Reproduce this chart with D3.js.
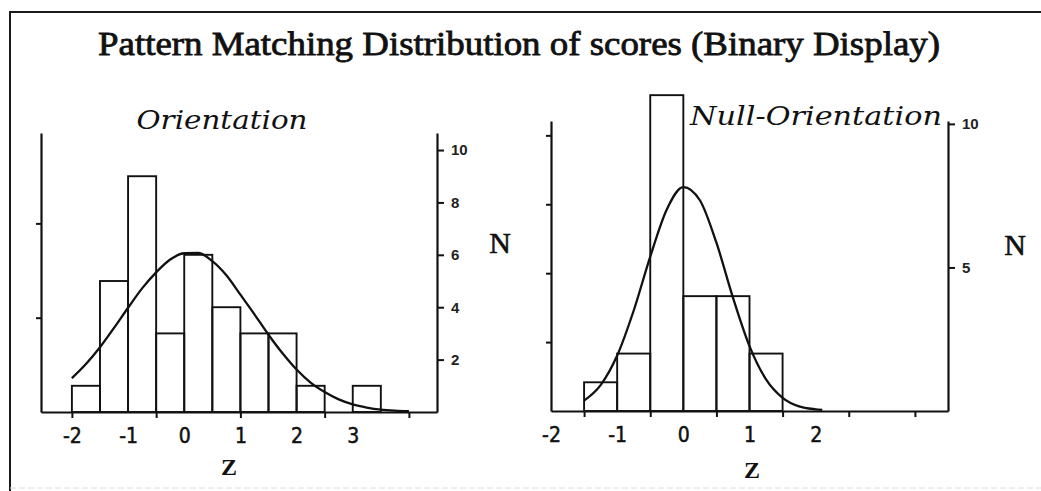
<!DOCTYPE html>
<html>
<head>
<meta charset="utf-8">
<script src="https://cdn.jsdelivr.net/npm/d3@7"></script>
<style>
  body { margin: 0; background: #fff; }
  svg { display: block; }
</style>
</head>
<body>
<svg id="chart" width="1041" height="491"></svg>
<script>
// ---- data ----
const chartTitle = "Pattern Matching Distribution of scores (Binary Display)";
const binWidth = 0.5;

// Orientation: histogram of z-scores (bin lower edges and counts)
const orientTitle = "Orientation";
const orientBinStart = [-2, -1.5, -1, -0.5, 0, 0.5, 1, 1.5, 2, 2.5, 3];
const orientCount    = [ 1,    5,  9,    3, 6,   4, 3,   3, 1,   0, 1];
// fitted normal curve, read at 0.25 steps
const orientCurveZ = [-2, -1.75, -1.5, -1.25, -1, -0.75, -0.5, -0.25, 0, 0.25, 0.5, 0.75,
                      1, 1.25, 1.5, 1.75, 2, 2.25, 2.5, 2.75, 3, 3.25, 3.5, 3.75, 4];
const orientCurveN = [1.29, 1.83, 2.47, 3.21, 3.98, 4.72, 5.33, 5.82, 6.06, 6.07, 5.76, 5.22,
                      4.48, 3.73, 2.95, 2.24, 1.62, 1.12, 0.76, 0.48, 0.29, 0.17, 0.09, 0.05, 0.03];
const orientZLabels = [-2, -1, 0, 1, 2, 3];
const orientZTicks  = [-2, -0.5, 1, 2.5, 4];
const orientNTicks  = [2, 4, 6, 8, 10];
const orientShareTicks = [0.1, 0.2];

// Null-Orientation
const nullTitle = "Null-Orientation";
const nullBinStart = [-1.5, -1, -0.5, 0, 0.5, 1];
const nullCount    = [   1,  2,   11, 4,   4, 2];
const nullCurveZ = [-1.5, -1.25, -1, -0.75, -0.5, -0.25, 0, 0.25, 0.5, 0.75,
                    1, 1.25, 1.5, 1.75, 2, 2.1];
const nullCurveN = [0.36, 0.9, 1.93, 3.5, 5.38, 7.02, 7.8, 7.34, 5.86, 3.95,
                    2.26, 1.1, 0.46, 0.16, 0.06, 0.04];
const nullZLabels = [-2, -1, 0, 1, 2];
const nullZTicks  = [-1.5, -0.5, 0.5, 1.5, 2.5, 3.5];
const nullNTicks  = [5, 10];
const nullShareTicks = [0.1, 0.2, 0.3, 0.4];

// ---- drawing ----
const svg = d3.select("#chart");
svg.append("rect").attr("width", 1041).attr("height", 491).attr("fill", "#fff");

// outer frame
svg.append("path").attr("d", "M10,491V12H1041")
  .attr("fill", "none").attr("stroke", "#1a1a1a").attr("stroke-width", 2);
svg.append("path").attr("d", "M10,488H1041")
  .attr("fill", "none").attr("stroke", "#dcdcdc").attr("stroke-width", 1)
  .attr("stroke-dasharray", "6,3");

svg.append("text")
  .attr("x", 519).attr("y", 55)
  .attr("text-anchor", "middle")
  .attr("font-family", "'Liberation Serif', 'Times New Roman', serif")
  .attr("font-size", 34)
  .attr("textLength", 842).attr("lengthAdjust", "spacingAndGlyphs")
  .attr("fill", "#111").attr("stroke", "#111").attr("stroke-width", 0.8)
  .text(chartTitle);

function drawPanel(p) {
  const g = svg.append("g");
  const x = d3.scaleLinear().domain(p.zDomain).range([p.left, p.right]);
  const y = d3.scaleLinear().domain([0, p.nMax]).range([p.bottom, p.top]);
  const total = d3.sum(p.counts);
  const yShare = d3.scaleLinear().domain([0, p.nMax / total]).range([p.bottom, p.top]);

  // bars
  const bins = p.starts.map((s, i) => ({ s, n: p.counts[i] })).filter(d => d.n > 0);
  g.selectAll("rect.bar").data(bins).join("rect")
    .attr("class", "bar")
    .attr("x", d => x(d.s))
    .attr("width", d => x(d.s + binWidth) - x(d.s))
    .attr("y", d => y(d.n))
    .attr("height", d => y(0) - y(d.n))
    .attr("fill", "none").attr("stroke", "#111").attr("stroke-width", 1.9);

  // fitted curve
  const pts = p.curveZ.map((z, i) => [z, p.curveN[i]]);
  g.append("path").datum(pts)
    .attr("d", d3.line().x(d => x(d[0])).y(d => y(d[1])).curve(d3.curveMonotoneX))
    .attr("fill", "none").attr("stroke", "#111").attr("stroke-width", 2.3);

  const styleAxis = sel => {
    sel.selectAll("path.domain").attr("stroke", "#111").attr("stroke-width", 2.2);
    sel.selectAll(".tick line").attr("stroke", "#111").attr("stroke-width", 2);
  };

  // bottom axis line with tick marks
  g.append("g").attr("transform", `translate(0,${p.bottom})`)
    .call(d3.axisBottom(x).tickValues(p.zTicks).tickFormat("").tickSize(6).tickSizeOuter(0))
    .call(styleAxis);

  // z labels
  const lab = g.append("g").attr("transform", `translate(0,${p.bottom})`)
    .call(d3.axisBottom(x).tickValues(p.zLabels).tickFormat(d => String(d))
      .tickSize(0).tickPadding(16));
  lab.select("path.domain").remove();
  lab.selectAll("text")
    .attr("font-family", "'Liberation Sans Narrow', 'DejaVu Sans Condensed', 'Liberation Sans', sans-serif")
    .attr("font-size", 21).attr("fill", "#111")
    .attr("stroke", "#111").attr("stroke-width", 0.5);

  // right axis: counts
  const ra = g.append("g").attr("transform", `translate(${p.right},0)`)
    .call(d3.axisRight(y).tickValues(p.nTicks).tickSize(7).tickPadding(7).tickSizeOuter(0))
    .call(styleAxis);
  ra.selectAll("text")
    .attr("font-family", "'Liberation Sans', Arial, sans-serif")
    .attr("font-size", 15).attr("font-weight", "bold").attr("fill", "#222");

  // left axis: share of total per bin
  g.append("g").attr("transform", `translate(${p.left},0)`)
    .call(d3.axisLeft(yShare).tickValues(p.shareTicks).tickFormat("").tickSize(5).tickSizeOuter(0))
    .call(styleAxis);

  // titles
  g.append("text")
    .attr("x", p.subX).attr("y", p.subY).attr("text-anchor", "middle")
    .attr("font-family", "'DejaVu Serif', serif").attr("font-style", "italic")
    .attr("font-size", 26).attr("textLength", p.subLen).attr("lengthAdjust", "spacingAndGlyphs")
    .attr("fill", "#111")
    .text(p.title);

  g.append("text")
    .attr("x", p.nX).attr("y", p.nY).attr("text-anchor", "middle")
    .attr("font-family", "'Liberation Serif', 'Times New Roman', serif")
    .attr("font-size", 30).attr("fill", "#111")
    .attr("stroke", "#111").attr("stroke-width", 0.6)
    .text("N");

  g.append("text")
    .attr("x", p.zX).attr("y", p.zY).attr("text-anchor", "middle")
    .attr("font-family", "'Liberation Serif', 'Times New Roman', serif")
    .attr("font-weight", "bold").attr("font-size", 24).attr("fill", "#111")
    .text("Z");
}

drawPanel({
  title: orientTitle, starts: orientBinStart, counts: orientCount,
  curveZ: orientCurveZ, curveN: orientCurveN,
  zLabels: orientZLabels, zTicks: orientZTicks, nTicks: orientNTicks, shareTicks: orientShareTicks,
  zDomain: [-2.55, 4.5], nMax: 10.65,
  left: 41, right: 437, top: 133, bottom: 412,
  subX: 222, subY: 129, subLen: 171,
  nX: 500, nY: 253, zX: 229, zY: 475
});

drawPanel({
  title: nullTitle, starts: nullBinStart, counts: nullCount,
  curveZ: nullCurveZ, curveN: nullCurveN,
  zLabels: nullZLabels, zTicks: nullZTicks, nTicks: nullNTicks, shareTicks: nullShareTicks,
  zDomain: [-2, 4], nMax: 10.1,
  left: 551, right: 948, top: 121, bottom: 411,
  subX: 816, subY: 125, subLen: 252,
  nX: 1015, nY: 255, zX: 752, zY: 478
});
</script>
</body>
</html>
